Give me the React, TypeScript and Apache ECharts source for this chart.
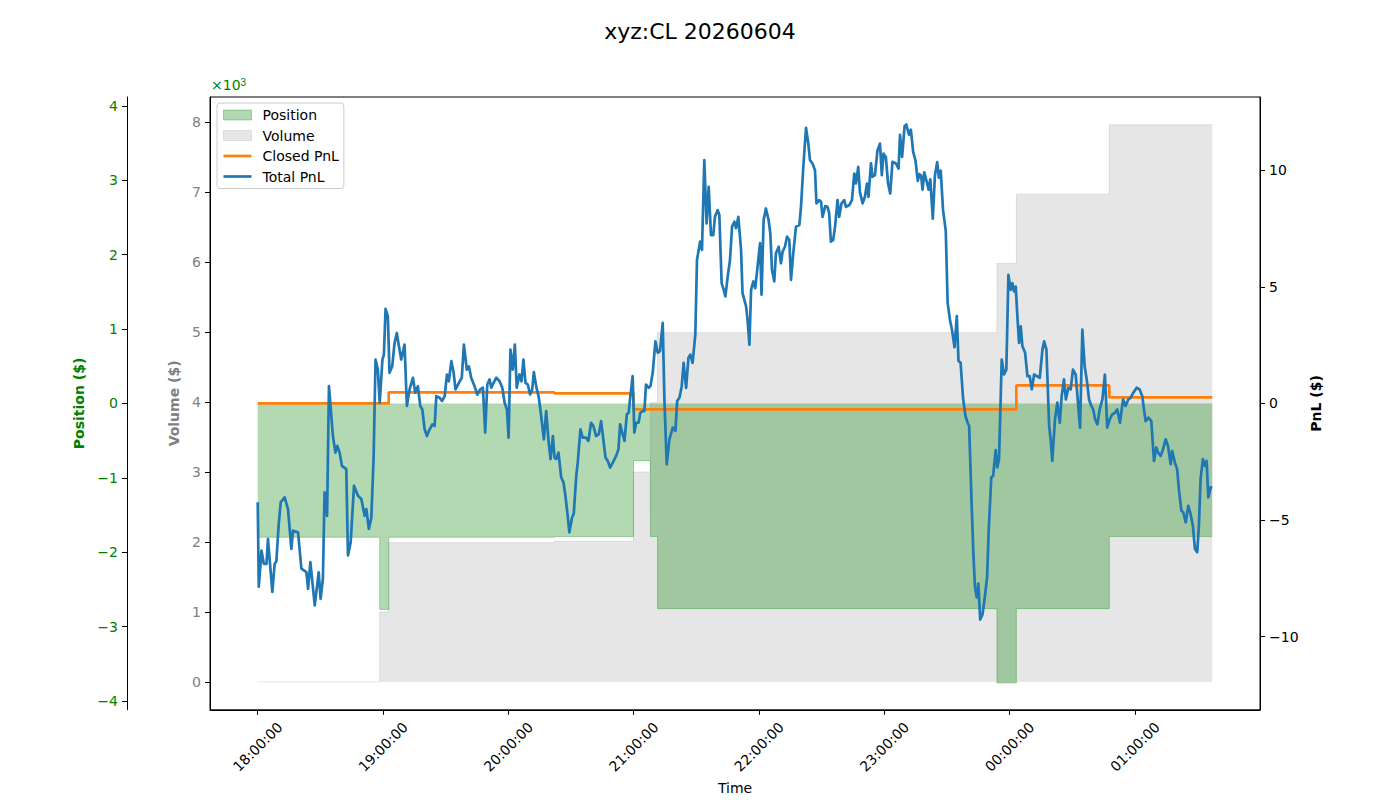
import React, { useEffect, useRef } from 'react';
import * as echarts from 'echarts';

// ---- axis ticks / labels ----
const hourTicks = [0, 60, 120, 180, 240, 300, 360, 420]; // minutes after 18:00
const hourLabels = ['18:00:00', '19:00:00', '20:00:00', '21:00:00', '22:00:00', '23:00:00', '00:00:00', '01:00:00'];
const positionTicks = [-4, -3, -2, -1, 0, 1, 2, 3, 4];
const volumeTicks = [0, 1000, 2000, 3000, 4000, 5000, 6000, 7000, 8000];
const pnlTicks = [-10, -5, 0, 5, 10];

// ---- step series (minutes after 18:00) ----
const positionTime = [0, 58.4, 62.7, 142.1, 179.9, 188.0, 191.4, 353.9, 363.2, 407.7, 457.0];
const positionValue = [-1.8, -2.77, -1.8, -1.79, -0.77, -1.79, -2.76, -3.76, -2.76, -1.79, -1.79];
const volumeTime = [0, 58.4, 62.7, 142.1, 179.9, 188.0, 191.4, 353.9, 363.2, 407.7, 457.0];
const volumeValue = [0, 1000, 1990, 2010, 3000, 3990, 4990, 5980, 6970, 7960, 7960];
const closedTime = [0, 62.7, 142.1, 179.9, 363.2, 407.7, 457.0];
const closedValue = [0, 0.47, 0.43, -0.26, 0.77, 0.26, 0.26];

// ---- total PnL ----
const totalTime = [
  0, 0.5, 1.8, 2.9, 4.2, 4.9, 7.0, 8.1, 8.9, 10.0, 11.0, 12.9, 14.5, 16.1, 16.9, 19.3, 20.9, 23.3, 24.1, 25.2,
  27.3, 29.2, 30.1, 31.2, 32.0, 33.2, 34.1, 36.0, 37.2, 38.1, 39.2, 40.3, 42.4, 43.2, 44.5, 46.1, 48.0, 49.6, 51.2, 52.0,
  53.2, 54.4, 55.5, 56.4, 57.5, 58.4, 59.7, 60.4, 61.2, 62.3, 63.1, 64.4, 65.5, 66.6, 67.6, 68.7, 70.3, 71.4, 72.7, 74.3,
  75.4, 76.7,
  77.8, 78.8, 79.9, 81.0, 82.3, 83.6, 84.7, 85.5, 87.1, 88.2, 89.5, 90.6, 91.5, 92.7, 93.8, 94.7, 96.3, 97.7, 98.7, 100.1,
  101.1, 102.2, 103.8, 105.1, 106.5, 107.8, 108.9, 109.9, 111.0, 111.8, 112.9, 114.2, 115.8, 117.1, 118.2, 119.3, 120.1, 121.0, 122.1, 123.1,
  124.0, 125.3, 126.3, 127.2, 128.2, 129.3, 130.4, 131.4, 132.2, 133.3, 134.6, 135.7, 137.0, 138.1, 139.3, 140.2, 141.3, 142.1, 142.9, 144.0,
  145.3, 146.4, 147.3, 148.4, 149.2, 150.5, 151.3, 152.5,
  153.2, 154.5, 155.6, 157.2, 158.3, 159.6, 160.7, 162.0, 163.3, 164.4, 166.5, 167.6, 168.7, 170.0, 171.6, 172.7, 173.5, 174.5, 175.6, 176.7,
  177.6, 178.4, 179.5, 180.3, 181.2, 182.3, 183.2, 184.3, 185.1, 185.9, 187.2, 188.0, 189.1, 190.4, 191.5, 192.6, 193.9, 194.7, 195.8, 197.1,
  198.7, 200.0, 200.8, 201.9, 203.0, 203.9, 205.1, 206.2, 207.1, 208.2, 209.5, 210.3, 211.8, 212.7, 213.8, 214.9, 215.9, 217.0, 218.1, 218.9,
  220.2, 221.0, 222.1, 223.1, 223.9, 225.0, 226.1, 227.1, 228.2, 229.0, 230.1,
  231.4, 232.1, 233.8, 234.5, 235.4, 236.2, 237.3, 238.2, 239.3, 240.5, 241.2, 242.2, 243.3, 244.6, 245.4, 246.2, 247.3, 248.1, 249.4, 250.5,
  251.3, 252.4, 253.4, 254.5, 255.3, 256.4, 257.7, 259.3, 260.1, 261.2, 262.5, 263.6, 264.4, 265.6, 266.8, 267.5, 268.8, 269.7, 270.4, 271.7,
  272.8, 273.6, 274.4, 275.5, 276.4, 277.6, 278.4, 279.5, 280.8, 281.6, 283.2, 284.5, 285.6, 286.4, 287.5, 288.3, 289.6, 290.7, 291.7, 292.4,
  293.6, 294.3, 295.5, 296.7, 297.9, 298.8, 299.6, 300.7, 301.8, 302.8, 303.9, 305.5, 306.8,
  307.5, 308.5, 309.7, 310.5, 311.8, 312.7, 313.8, 314.9, 316.0, 316.8, 317.6, 318.3, 319.1, 320.4, 321.2, 322.0, 323.2, 324.2, 325.3, 326.1,
  327.0, 328.1, 329.4, 330.3, 331.4, 332.4, 333.6, 334.7, 335.5, 336.5, 337.7, 338.8, 339.8, 340.6, 341.8, 342.6, 343.4, 344.2, 345.0, 345.9,
  347.0, 348.0, 349.2, 350.0, 351.2, 352.1, 353.3, 354.1,
  354.9, 356.2, 357.3, 358.4, 359.4, 360.5, 361.3, 362.1, 362.9, 363.7, 364.5, 365.3, 366.1, 367.4, 368.5, 369.6, 370.6, 371.7, 373.0, 374.4,
  375.7, 376.5, 377.6, 378.9, 379.7, 380.4, 381.7, 382.8, 384.0, 384.9, 386.0, 386.9, 388.1, 389.2, 390.3, 391.6, 392.7, 393.7, 394.8, 395.9,
  396.9, 398.0, 399.1, 400.0, 400.9, 402.0, 403.1, 404.4, 405.6, 406.7, 407.9, 409.1, 410.4, 411.5, 412.8, 414.3, 415.5, 416.8, 417.9, 419.2,
  420.8, 422.2, 423.5, 424.3, 425.1, 426.4, 427.8, 429.1, 430.2, 431.1, 432.3, 433.4, 434.7, 435.8, 437.1, 437.8, 439.1, 440.2, 441.0, 442.2,
  443.1, 444.3, 445.5, 446.6, 447.7, 448.7, 449.8, 450.6, 451.4, 452.5, 453.5, 454.3, 455.1, 456.2, 457.0,
];
const totalPnl = [
  -4.24, -7.86, -6.31, -6.88, -6.88, -5.81, -8.08, -6.88, -6.78, -5.24, -4.24, -4.03, -4.53, -6.24, -5.46, -5.53, -7.09, -7.24, -7.95, -6.81,
  -8.66, -7.24, -8.38, -7.52, -3.82, -4.82, 0.74, -1.40, -2.11, -1.82, -2.11, -2.68, -2.82, -6.52, -5.95, -3.53, -3.96, -4.10, -4.82, -4.53,
  -5.38, -4.89, -2.25, 1.88, 1.45, 0.03, 1.88, 2.09, 4.05, 3.73, 1.31, 1.59, 2.59, 3.02, 2.45, 1.88, 2.52, -0.11, 0.60, 1.10,
  0.46, 0.74,
  -0.11, -0.26, -1.11, -1.40, -1.11, -0.90, -0.97, 0.31, 0.24, 0.10, 0.31, 1.24, 0.95, 1.81, 1.31, 0.60, 0.88, 1.10, 2.52, 1.45,
  1.59, 1.10, 0.74, 0.38, 0.60, 0.67, -1.25, 0.81, 1.03, 0.67, 0.88, 1.10, 0.95, 0.67, 0.03, -0.26, -1.47, 2.31, 1.45, 2.52,
  0.67, 1.24, 0.95, 1.88, 0.88, 0.81, 0.38, 0.60, 1.34, 0.74, 0.24, -0.54, -1.54, -0.33, -1.68, -2.39, -1.40, -2.32, -2.39, -2.11,
  -3.18, -3.39, -3.96, -4.82, -5.53, -4.89, -4.74, -3.11,
  -2.54, -1.11, -1.47, -1.47, -1.61, -0.83, -0.97, -1.40, -1.32, -0.76, -2.32, -2.47, -2.75, -2.54, -2.25, -1.97, -0.90, -1.25, -1.61, -0.47,
  -0.40, 0.31, 1.17, -1.25, -0.83, -0.83, -0.40, -0.33, -0.33, 0.81, 0.67, 0.74, 1.31, 2.66, 2.17, 2.24, 3.45, 0.17, -2.61, -1.54,
  -1.04, -1.18, 0.10, 0.24, 0.74, 1.74, 0.67, 1.95, 2.09, 1.74, 2.95, 6.15, 6.94, 6.58, 10.43, 7.72, 9.29, 7.22, 7.22, 8.00,
  8.29, 8.08, 5.16, 4.87, 4.59, 5.44, 6.15, 7.58, 7.79, 7.51, 8.00,
  6.58, 4.73, 4.16, 3.59, 2.52, 4.87, 5.23, 4.94, 5.87, 6.87, 4.66, 7.86, 8.36, 7.86, 7.29, 5.73, 5.23, 6.44, 6.72, 6.01,
  6.51, 6.72, 7.15, 7.01, 5.30, 6.44, 7.58, 7.65, 8.43, 10.14, 11.82, 11.14, 10.43, 10.29, 10.00, 8.58, 8.72, 8.65, 8.00, 8.46,
  8.43, 8.15, 6.94, 7.01, 7.58, 8.72, 8.00, 8.58, 8.72, 8.43, 8.50, 8.72, 9.86, 9.43, 10.14, 9.07, 8.58, 8.86, 9.43, 8.86,
  10.29, 9.72, 9.79, 10.85, 11.14, 9.79, 10.71, 10.57, 9.43, 9.00, 10.36, 10.29, 10.07,
  11.52, 10.57, 11.89, 11.96, 11.52, 11.74, 10.79, 10.42, 9.54, 9.83, 9.76, 9.17, 9.91, 9.47, 9.17, 9.61, 7.92, 9.76, 10.35, 9.68,
  9.98, 8.29, 7.41, 4.32, 3.59, 3.15, 2.41, 3.74, 1.82, 1.75, 0.21, -0.53, -0.82, -0.97, -4.35, -6.41, -7.88, -8.32, -7.73, -9.27,
  -9.05, -8.39, -7.44, -5.38, -3.18, -3.10, -2.00, -2.74,
  -2.39, 1.88, 1.24, 1.45, 5.51, 4.87, 5.16, 4.80, 5.01, 3.73, 2.59, 3.30, 2.45, 2.17, 1.17, 1.17, 0.60, 1.24, 1.17, 1.10,
  2.31, 2.66, 2.31, -0.97, -1.61, -2.47, -0.68, 0.03, -0.83, 0.31, 1.03, 0.17, 0.67, 0.60, 1.45, 1.24, 0.03, -1.04, 3.16, 1.59,
  1.03, 0.17, -0.11, -0.26, -0.68, -0.90, -0.26, 0.17, 1.24, -1.04, -0.68, -0.47, -0.40, -0.26, -0.83, 0.17, -0.11, 0.17, 0.24, 0.46,
  0.67, 0.60, 0.31, -0.26, -0.76, -0.61, -0.76, -2.47, -1.89, -2.11, -2.25, -1.97, -1.54, -1.82, -2.61, -2.04, -2.54, -2.82, -3.68, -4.60,
  -4.67, -5.10, -4.39, -4.74, -5.24, -6.24, -6.38, -5.24, -3.25, -2.39, -2.68, -2.47, -4.03, -3.60, -3.60,
];

const zip = (xs: number[], ys: number[]) => {
  const n = Math.min(xs.length, ys.length);
  const out: number[][] = [];
  for (let i = 0; i < n; i++) out.push([xs[i], ys[i]]);
  return out;
};

const minusFmt = (v: number) => (v < 0 ? '\u2212' + String(Math.abs(v)) : String(v));
const FONT = 'DejaVu Sans';
const LINE_ICON = 'path://M0,0H28V2.7H0Z';

export default function App() {
  const ref = useRef<HTMLDivElement>(null);

  useEffect(() => {
    if (!ref.current) return;
    const chart = echarts.init(ref.current, undefined, { renderer: 'svg' });

    const tickStyle = { length: 5, lineStyle: { color: '#000', width: 1 } };

    const option: any = {
      animation: false,
      backgroundColor: '#fff',
      textStyle: { fontFamily: FONT },
      title: {
        text: 'xyz:CL 20260604',
        left: 'center',
        top: 15,
        textStyle: { fontSize: 22, fontWeight: 'normal', color: '#000', fontFamily: FONT },
      },
      grid: {
        left: 210, right: 140, top: 97, bottom: 88,
        show: true, borderColor: '#000', borderWidth: 1, backgroundColor: 'transparent',
      },
      legend: {
        orient: 'vertical',
        left: 217,
        top: 103,
        padding: [5, 5, 5, 6],
        itemWidth: 28,
        itemHeight: 10,
        itemGap: 6.5,
        backgroundColor: 'rgba(255,255,255,0.8)',
        borderColor: '#cccccc',
        borderWidth: 1,
        borderRadius: 3,
        textStyle: { fontSize: 14, color: '#000', fontFamily: FONT, padding: [0, 0, 0, 6] },
        data: [
          { name: 'Position', icon: 'rect', itemStyle: { color: 'rgba(0,128,0,0.3)', borderColor: 'rgba(0,128,0,0.3)', borderWidth: 1 } },
          { name: 'Volume', icon: 'rect', itemStyle: { color: 'rgba(128,128,128,0.2)', borderColor: 'rgba(128,128,128,0.2)', borderWidth: 1 } },
          { name: 'Closed PnL', icon: LINE_ICON, itemStyle: { color: '#ff7f0e' } },
          { name: 'Total PnL', icon: LINE_ICON, itemStyle: { color: '#1f77b4' } },
        ],
      },
      xAxis: {
        type: 'value',
        min: -22.85,
        max: 479.85,
        axisLine: { show: true, onZero: false, lineStyle: { color: '#000' } },
        axisTick: { show: true, customValues: hourTicks, ...tickStyle },
        axisLabel: {
          customValues: hourTicks,
          formatter: (v: number) => hourLabels[Math.round(v / 60)] ?? '',
          rotate: 45,
          align: 'center',
          verticalAlign: 'middle',
          margin: 37,
          fontSize: 14,
          color: '#000',
          fontFamily: FONT,
        },
        splitLine: { show: false },
        name: 'Time',
        nameLocation: 'middle',
        nameGap: 67,
        nameTextStyle: { fontSize: 14, color: '#000', fontFamily: FONT },
      },
      yAxis: [
        {
          type: 'value',
          position: 'left',
          min: -398,
          max: 8358,
          axisLine: { show: true, onZero: false, lineStyle: { color: '#000' } },
          axisTick: { show: true, customValues: volumeTicks, ...tickStyle },
          axisLabel: {
            customValues: volumeTicks,
            formatter: (v: number) => String(Math.round(v / 1000)),
            color: '#808080', fontSize: 14, margin: 9, fontFamily: FONT,
          },
          splitLine: { show: false },
          name: 'Volume ($)',
          nameLocation: 'middle',
          nameRotate: 90,
          nameGap: 26,
          nameTextStyle: { color: '#808080', fontWeight: 'bold', fontSize: 14, fontFamily: FONT },
        },
        {
          type: 'value',
          position: 'left',
          offset: 83,
          min: -4.12,
          max: 4.12,
          axisLine: { show: true, onZero: false, lineStyle: { color: '#000' } },
          axisTick: { show: true, customValues: positionTicks, ...tickStyle },
          axisLabel: { customValues: positionTicks, formatter: minusFmt, color: '#008000', fontSize: 14, margin: 9, fontFamily: FONT },
          splitLine: { show: false },
          name: 'Position ($)',
          nameLocation: 'middle',
          nameRotate: 90,
          nameGap: 38,
          nameTextStyle: { color: '#008000', fontWeight: 'bold', fontSize: 14, fontFamily: FONT },
        },
        {
          type: 'value',
          position: 'right',
          min: -13.14,
          max: 13.14,
          axisLine: { show: true, onZero: false, lineStyle: { color: '#000' } },
          axisTick: { show: true, customValues: pnlTicks, ...tickStyle },
          axisLabel: { customValues: pnlTicks, formatter: minusFmt, color: '#000', fontSize: 14, margin: 9, fontFamily: FONT },
          splitLine: { show: false },
          name: 'PnL ($)',
          nameLocation: 'middle',
          nameRotate: 90,
          nameGap: 45,
          nameTextStyle: { color: '#000', fontWeight: 'bold', fontSize: 14, fontFamily: FONT },
        },
      ],
      graphic: [
        {
          type: 'text',
          left: 211,
          top: 77,
          style: {
            text: '×10{s|3}',
            fill: '#008000',
            font: '14px "DejaVu Sans"',
            rich: { s: { fontSize: 10, fill: '#008000', verticalAlign: 'top', padding: [0, 0, 6, 0] } },
          },
        },
      ],
      series: [
        {
          name: 'Volume',
          type: 'line',
          yAxisIndex: 0,
          step: 'end',
          symbol: 'none',
          data: zip(volumeTime, volumeValue),
          itemStyle: { color: 'rgba(128,128,128,0.2)' },
          lineStyle: { color: 'rgba(128,128,128,0.2)', width: 1 },
          areaStyle: { color: 'rgba(128,128,128,0.2)', opacity: 1 },
          z: 1,
        },
        {
          name: 'Position',
          type: 'line',
          yAxisIndex: 1,
          step: 'end',
          symbol: 'none',
          data: zip(positionTime, positionValue),
          itemStyle: { color: 'rgba(0,128,0,0.3)' },
          lineStyle: { color: 'rgba(0,128,0,0.3)', width: 1 },
          areaStyle: { color: 'rgba(0,128,0,0.3)', opacity: 1 },
          z: 2,
        },
        {
          name: 'Closed PnL',
          type: 'line',
          yAxisIndex: 2,
          step: 'end',
          symbol: 'none',
          data: zip(closedTime, closedValue),
          itemStyle: { color: '#ff7f0e' },
          lineStyle: { color: '#ff7f0e', width: 2.7 },
          z: 3,
        },
        {
          name: 'Total PnL',
          type: 'line',
          yAxisIndex: 2,
          symbol: 'none',
          data: zip(totalTime, totalPnl),
          itemStyle: { color: '#1f77b4' },
          lineStyle: { color: '#1f77b4', width: 2.7, join: 'round' },
          z: 4,
        },
      ],
    };

    chart.setOption(option);
    return () => chart.dispose();
  }, []);

  return (
    <div
      ref={ref}
      style={{ position: 'fixed', left: 0, top: 0, width: 1400, height: 800, background: '#fff' }}
    />
  );
}
